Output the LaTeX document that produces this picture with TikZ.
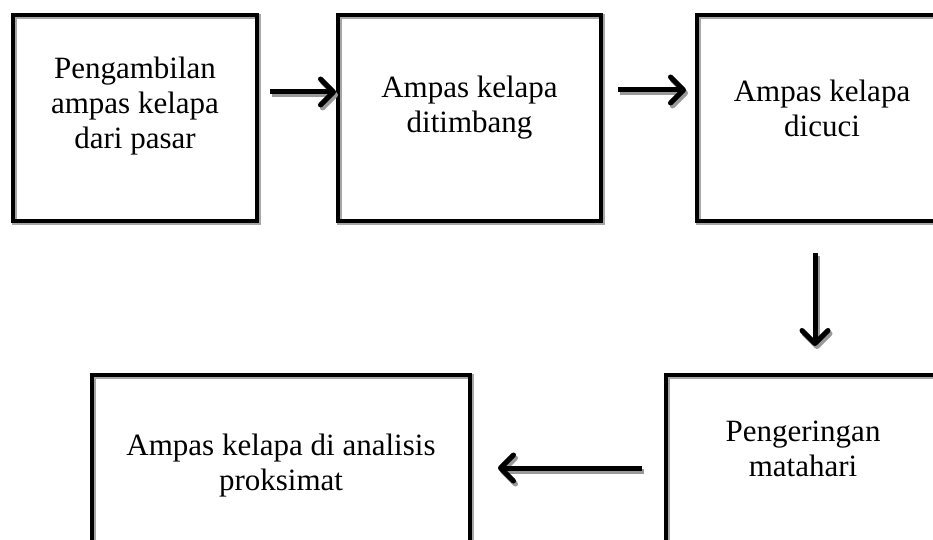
\documentclass[tikz,border=0pt]{standalone}
\usepackage{fontspec}
\setmainfont{Liberation Serif}
\usetikzlibrary{arrows.meta}
\tikzset{
  box/.style={draw, line width=4.5pt, outer sep=0pt, inner sep=0pt,
    preaction={draw=black!35, transform canvas={shift={(1.5pt,-1.5pt)}}}},
  boxtext/.style={align=center, inner sep=0pt, font=\fontsize{31pt}{35pt}\selectfont},
  flow/.style={line width=5pt, -{Straight Barb[length=13pt,width=26pt,round]}},
  flowshade/.style={flow, draw=black!40, transform canvas={shift={(2pt,-3pt)}}}
}
\begin{document}
\begin{tikzpicture}[x=1pt,y=-1pt]
  \clip (0,0) rectangle (933,540);
  % boxes
  \node[box, minimum width=244pt, minimum height=206pt] (boxA) at (135,118) {};
  \node[box, minimum width=263pt, minimum height=206pt] (boxB) at (469.5,118) {};
  \node[box, minimum width=250pt, minimum height=206pt] (boxC) at (822,118) {};
  \node[box, minimum width=378pt, minimum height=206pt] (boxD) at (281,478) {};
  \node[box, minimum width=274pt, minimum height=206pt] (boxE) at (803,478) {};
  % texts
  \node[boxtext] (txtA) at ([yshift=12pt]boxA.center) {Pengambilan\\ampas kelapa\\dari pasar};
  \node[boxtext] (txtB) at ([yshift=10pt]boxB.center) {Ampas kelapa\\ditimbang};
  \node[boxtext] (txtC) at ([yshift=10pt]boxC.center) {Ampas kelapa\\dicuci};
  \node[boxtext] (txtD) at ([yshift=12pt]boxD.center) {Ampas kelapa di analisis\\proksimat};
  \node[boxtext] (txtE) at ([yshift=29pt]boxE.center) {Pengeringan\\matahari};
  % arrow shadows
  \draw[flowshade, shorten <=13pt, shorten >=2pt] ([yshift=26pt]boxA.east) -- ([yshift=26pt]boxB.west);
  \draw[flowshade, shorten <=17pt, shorten >=11pt] ([yshift=28pt]boxB.east) -- ([yshift=28pt]boxC.west);
  \draw[flowshade, shorten <=32pt, shorten >=29pt] ([xshift=-7pt]boxC.south) -- ([xshift=-7pt]boxC.south |- boxE.north);
  \draw[flowshade, shorten <=24pt, shorten >=28pt] ([yshift=10pt]boxE.west) -- ([yshift=10pt]boxD.east);
  % arrows
  \draw[flow, shorten <=13pt, shorten >=2pt] ([yshift=26pt]boxA.east) -- ([yshift=26pt]boxB.west);
  \draw[flow, shorten <=17pt, shorten >=11pt] ([yshift=28pt]boxB.east) -- ([yshift=28pt]boxC.west);
  \draw[flow, shorten <=32pt, shorten >=29pt] ([xshift=-7pt]boxC.south) -- ([xshift=-7pt]boxC.south |- boxE.north);
  \draw[flow, shorten <=24pt, shorten >=28pt] ([yshift=10pt]boxE.west) -- ([yshift=10pt]boxD.east);
\end{tikzpicture}
\end{document}
